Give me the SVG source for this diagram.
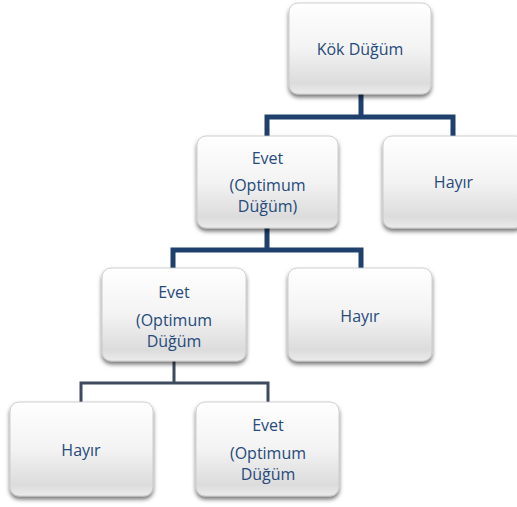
<svg xmlns="http://www.w3.org/2000/svg" width="517" height="507" viewBox="0 0 517 507">
<defs>
<linearGradient id="g" x1="0" y1="0" x2="0" y2="1">
<stop offset="0" stop-color="#ffffff"/>
<stop offset="0.5" stop-color="#f3f3f3"/>
<stop offset="0.88" stop-color="#dcdcdc"/>
<stop offset="1" stop-color="#ebebeb"/>
</linearGradient>
<filter id="sh" x="-10%" y="-10%" width="125%" height="130%">
<feDropShadow dx="0" dy="3" stdDeviation="2.2" flood-color="#000" flood-opacity="0.55"/>
</filter>
</defs>
<style>
.box{fill:url(#g);stroke:#c4c4c4;stroke-width:0.8;filter:url(#sh)}
.t{font-family:"Open Sans","Noto Sans",sans-serif;font-size:16px;fill:#264a7b;text-anchor:middle}
.c1{fill:none;stroke:#1f3f6d;stroke-width:5}
.c3{fill:none;stroke:#3e4b5e;stroke-width:3}
</style>
<rect width="517" height="507" fill="#ffffff"/>
<g id="connectors">
<path class="c1" d="M267,137 V117 H453 V137 M361,94 V117"/>
<path class="c1" d="M173,269 V250 H361 V269 M267,228 V250"/>
<path class="c3" d="M81,403 V383 H268 V403 M174,361 V383"/>
</g>
<g id="root">
<rect class="box" x="289" y="3" width="142" height="91" rx="9"/>
<text class="t" x="360" y="55">Kök Düğüm</text>
</g>
<g id="evet1">
<rect class="box" x="197" y="136" width="141" height="92" rx="9"/>
<text class="t" x="267.5" y="164">Evet</text>
<text class="t" x="267.5" y="191">(Optimum</text>
<text class="t" x="267.5" y="212">Düğüm)</text>
</g>
<g id="hayir1">
<rect class="box" x="383" y="136" width="141" height="92" rx="9"/>
<text class="t" x="453.5" y="188">Hayır</text>
</g>
<g id="evet2">
<rect class="box" x="102" y="268" width="144" height="93" rx="9"/>
<text class="t" x="174" y="298">Evet</text>
<text class="t" x="174" y="326">(Optimum</text>
<text class="t" x="174" y="347">Düğüm</text>
</g>
<g id="hayir2">
<rect class="box" x="288" y="268" width="144" height="93" rx="9"/>
<text class="t" x="360" y="322">Hayır</text>
</g>
<g id="hayir3">
<rect class="box" x="10" y="402" width="143" height="94" rx="9"/>
<text class="t" x="81" y="456">Hayır</text>
</g>
<g id="evet3">
<rect class="box" x="196" y="402" width="143" height="94" rx="9"/>
<text class="t" x="268" y="431">Evet</text>
<text class="t" x="268" y="459">(Optimum</text>
<text class="t" x="268" y="480">Düğüm</text>
</g>
</svg>
